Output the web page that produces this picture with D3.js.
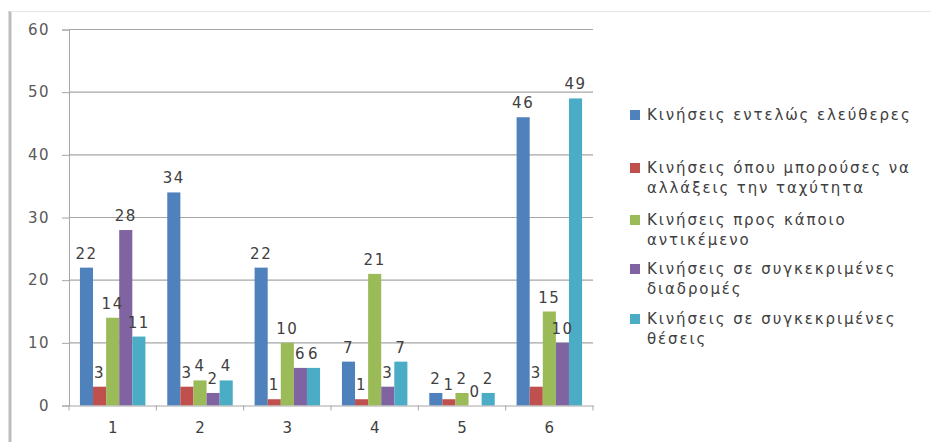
<!DOCTYPE html>
<html><head><meta charset="utf-8">
<script src="https://cdn.jsdelivr.net/npm/d3@7"></script>
<style>html,body{margin:0;padding:0;background:#fff;}svg{display:block;}</style>
</head><body>
<script>
const categories = ["1","2","3","4","5","6"];
const seriesNames = [
  ["Κινήσεις εντελώς ελεύθερες"],
  ["Κινήσεις όπου μπορούσες να","αλλάξεις την ταχύτητα"],
  ["Κινήσεις προς κάποιο","αντικέμενο"],
  ["Κινήσεις σε συγκεκριμένες","διαδρομές"],
  ["Κινήσεις σε συγκεκριμένες","θέσεις"]
];
const freeMoves     = [22,34,22,7,2,46];
const speedMoves    = [3,3,1,1,1,3];
const objectMoves   = [14,4,10,21,2,15];
const routeMoves    = [28,2,6,3,0,10];
const positionMoves = [11,4,6,7,2,49];
const yTicks = [0,10,20,30,40,50,60];
const colors = ["#4F81BD","#C0504D","#9BBB59","#8064A2","#4BACC6"];

(function(){
const series = [freeMoves, speedMoves, objectMoves, routeMoves, positionMoves];
const W = 931, H = 442;
const svg = d3.select("body").append("svg").attr("width",W).attr("height",H);
const font = "'DejaVu Sans', 'Open Sans', sans-serif";
const ls = "1.5px";

// frame
svg.append("line").attr("x1",10).attr("x2",10).attr("y1",11).attr("y2",H).attr("stroke","#bdbdbd").attr("stroke-width",3);
svg.append("line").attr("x1",10).attr("x2",W).attr("y1",11.5).attr("y2",11.5).attr("stroke","#e6e6e6").attr("stroke-width",1);

const mLeft = 69, mRight = 593, mTop = 29.5, mBottom = 405.5;
const x = d3.scaleBand().domain(categories).range([mLeft,mRight]).paddingInner(0).paddingOuter(0);
const y = d3.scaleLinear().domain([0,60]).range([mBottom,mTop]);
const barW = x.bandwidth()/(5+1.67);
const groupOff = (x.bandwidth()-5*barW)/2;
const xs = d3.scaleBand().domain(d3.range(5)).range([groupOff, groupOff+5*barW]);

// y axis + gridlines
const yAxis = d3.axisLeft(y).tickValues(yTicks).tickSize(7).tickPadding(12);
const gy = svg.append("g").attr("transform",`translate(${mLeft},0)`).call(yAxis);
gy.select(".domain").attr("stroke","#a6a6a6");
gy.selectAll(".tick line").attr("stroke","#a6a6a6");
gy.selectAll(".tick text").attr("fill","#595959").style("font-family",font).style("font-size","15px").style("letter-spacing",ls);
svg.append("g").selectAll("line").data(yTicks.filter(d=>d>0)).join("line")
  .attr("x1",mLeft).attr("x2",mRight).attr("y1",d=>y(d)).attr("y2",d=>y(d))
  .attr("stroke","#a6a6a6").attr("stroke-width",1.2);

// bars
const g = svg.append("g");
series.forEach((vals,si)=>{
  g.selectAll(".b"+si).data(vals).join("rect")
    .attr("x",(d,i)=>x(categories[i])+xs(si))
    .attr("width",xs.bandwidth())
    .attr("y",d=>y(d)).attr("height",d=>y(0)-y(d))
    .attr("fill",colors[si]);
});
// x axis
const xAxis = d3.axisBottom(x).tickSize(0).tickPadding(17);
const gx = svg.append("g").attr("transform",`translate(0,${mBottom})`).call(xAxis);
gx.select(".domain").attr("stroke","#a6a6a6");
gx.selectAll(".tick text").attr("fill","#404040").style("font-family",font).style("font-size","15px");
svg.append("g").selectAll("line").data(d3.range(categories.length+1)).join("line")
  .attr("x1",i=>mLeft+i*x.bandwidth()).attr("x2",i=>mLeft+i*x.bandwidth())
  .attr("y1",mBottom).attr("y2",mBottom+5).attr("stroke","#a6a6a6");

// labels
series.forEach((vals,si)=>{
  svg.append("g").selectAll("text").data(vals).join("text")
    .attr("x",(d,i)=>x(categories[i])+xs(si)+xs.bandwidth()/2)
    .attr("y",d=>y(d)-9)
    .attr("text-anchor","middle")
    .attr("fill","#404040").style("font-family",font).style("font-size","15px").style("letter-spacing",ls)
    .text(d=>d);
});

// legend
const legendY = [[115],[168,188],[220,240],[269,289],[319,339]];
const lg = svg.append("g");
seriesNames.forEach((lines,si)=>{
  lg.append("rect").attr("x",630).attr("y",legendY[si][0]-5).attr("width",10).attr("height",10).attr("fill",colors[si]);
  lines.forEach((t,li)=>{
    lg.append("text").attr("x",647).attr("y",legendY[si][li]).attr("dy","0.35em")
      .attr("fill","#404040").style("font-family",font).style("font-size","15px").style("letter-spacing","1.9px").text(t);
  });
});
})();
</script>
</body></html>
